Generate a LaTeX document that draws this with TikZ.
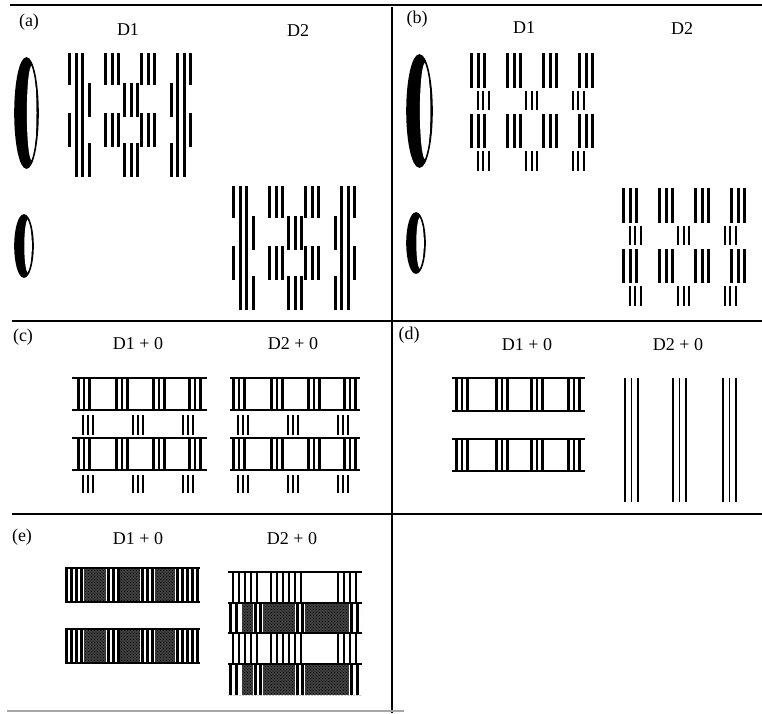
\documentclass[tikz,border=0pt]{standalone}
\usepackage{fontspec}
\setmainfont{Liberation Serif}
\usetikzlibrary{patterns}
\newcommand{\barsgroup}[5]{% x, y1, y2, width, spacing
  \foreach \k in {0,1,2} {\fill ({#1+\k*#5},#2) rectangle ({#1+\k*#5+#4},#3);}}
\newcommand{\DA}[2]{% panel (a) pattern at x0,y0
  \foreach \L in {0,36,72,108} {%
    \barsgroup{#1+\L}{#2}{#2+32}{3.4}{6.5}%
    \barsgroup{#1+\L}{#2+60}{#2+94}{3.4}{6.5}}%
  \foreach \S in {6.5,55,101.5} {%
    \barsgroup{#1+\S}{#2+30}{#2+64}{3.4}{6.5}%
    \barsgroup{#1+\S}{#2+90}{#2+124}{3.4}{6.5}}}
\newcommand{\DB}[2]{% panel (b) pattern at x0,y0
  \foreach \L in {0,36,72,108} {%
    \barsgroup{#1+\L}{#2}{#2+35}{3.4}{6.5}%
    \barsgroup{#1+\L}{#2+61}{#2+95}{3.4}{6.5}}%
  \foreach \S in {6.5,55,101.5} {%
    \barsgroup{#1+\S}{#2+38}{#2+57}{2.4}{5.5}%
    \barsgroup{#1+\S}{#2+98}{#2+118}{2.4}{5.5}}}
\newcommand{\CPat}[3]{% x0, line left, line right
  \foreach \yy in {378,410,438,470} {\draw[hl] (#2,\yy) -- (#3,\yy);}%
  \foreach \L in {0,38,75,111} {%
    \barsgroup{#1+\L}{378}{410}{2.8}{5.5}%
    \barsgroup{#1+\L}{438}{470}{2.8}{5.5}}%
  \foreach \S in {5,55,105} {%
    \barsgroup{#1+\S}{415}{435}{2.3}{5}%
    \barsgroup{#1+\S}{475}{493}{2.3}{5}}}
\newcommand{\lens}[4]{% cx, cy, rx, ry
  \fill[black] (#1,#2) ellipse [x radius=#3, y radius=#4];
  \fill[white] ({#1+0.45*#3},#2) ellipse [x radius={0.42*#3}, y radius={0.86*#4}];
  \draw[line width=1.6] (#1,#2) ellipse [x radius=#3, y radius=#4];}
\begin{document}
\begin{tikzpicture}[x=1pt,y=-1pt,
  hl/.style={line width=1.7},
  frame/.style={line width=1.6},
  lab/.style={font=\fontsize{18}{20}\selectfont, inner sep=0pt},
  stip/.style={fill=black!75, postaction={pattern=crosshatch dots, pattern color=black}}]
\useasboundingbox (0,0) rectangle (762,713);
% frame lines
\draw[frame] (10,5) -- (762,5);
\draw[frame] (392,7) -- (392,713);
\draw[frame] (12,321) -- (762,321);
\draw[frame] (12,514) -- (762,514);
\draw[line width=1.2, black!35] (7,711) -- (404,711);
% labels
\node[lab] (la) at (29,22) {(a)};
\node[lab] (la1) at (128,30) {D1};
\node[lab] (la2) at (298,31) {D2};
\node[lab] (lb) at (417,19) {(b)};
\node[lab] (lb1) at (524,28) {D1};
\node[lab] (lb2) at (682,29) {D2};
\node[lab] (lc) at (23,337) {(c)};
\node[lab] (lc1) at (138,344) {D1 + 0};
\node[lab] (lc2) at (293,344) {D2 + 0};
\node[lab] (ld) at (409,335) {(d)};
\node[lab] (ld1) at (527,345) {D1 + 0};
\node[lab] (ld2) at (678,345) {D2 + 0};
\node[lab] (le) at (22,537) {(e)};
\node[lab] (le1) at (138,539) {D1 + 0};
\node[lab] (le2) at (292,539) {D2 + 0};
% panel (a)
\lens{26.5}{113}{11.5}{55}
\lens{24}{246}{9}{31}
\DA{68}{53}
\DA{232}{186}
% panel (b)
\lens{419.5}{111}{12.5}{56}
\lens{416}{243}{9}{30}
\DB{470}{53}
\DB{622}{188}
% panel (c)
\CPat{77}{72}{207}
\CPat{232}{230}{360}
% panel (d)
\foreach \yy in {378,411,439,471} {\draw[hl] (452,\yy) -- (585,\yy);}
\foreach \L in {0,40,75,112} {%
  \barsgroup{455+\L}{378}{411}{2.8}{5.5}%
  \barsgroup{455+\L}{439}{471}{2.8}{5.5}}
\foreach \g in {625,673,723} {
  \foreach \k in {0,1,2} {\draw[line width=1.5] ({\g+\k*6.5},378) -- ({\g+\k*6.5},502);}}
% panel (e) D1+0
\foreach \ya/\yb in {568/602,629/663} {
  \fill[stip] (65,\ya) rectangle (200,\yb);
  \foreach \xa/\xb in {65/84,106/120,140/155,175/200} {\fill[white] (\xa,\ya) rectangle (\xb,\yb);}
  \foreach \bx in {65,70,75,80,107,112,117,141,146,151,176,181,186,191,196} {\fill (\bx,\ya) rectangle ({\bx+2.8},\yb);}
  \draw[hl] (65,\ya) -- (200,\ya);
  \draw[hl] (65,\yb) -- (200,\yb);
}
% panel (e) D2+0
\foreach \ya/\yb in {603/633,664/695} {
  \fill[stip] (228,\ya) rectangle (362,\yb);
  \foreach \xa/\xb in {228/242,253/263,295/305,349/362} {\fill[white] (\xa,\ya) rectangle (\xb,\yb);}
  \foreach \bx in {229,235,254,259,296,301,350,356} {\fill (\bx,\ya) rectangle ({\bx+2.8},\yb);}
}
\foreach \ya/\yb in {572/603,633/664} {
  \foreach \bx in {232,238,244,250,256,270,276,282,288,294,300,337,343,349,355} {\fill (\bx,\ya) rectangle ({\bx+2.4},\yb);}
}
\foreach \yy in {572,603,633,664} {\draw[hl] (228,\yy) -- (362,\yy);}
\end{tikzpicture}
\end{document}
